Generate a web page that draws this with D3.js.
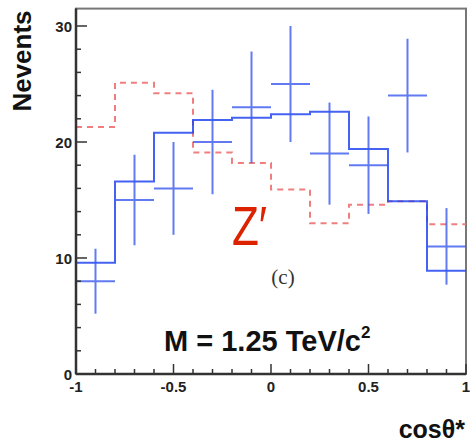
<!DOCTYPE html>
<html>
<head>
<meta charset="utf-8">
<script src="https://cdn.jsdelivr.net/npm/d3@7"></script>
<style>
body { margin: 0; background: #fff; }
svg text { font-family: "Liberation Sans", Arial, sans-serif; }
</style>
</head>
<body>
<script>
var width = 470;
var height = 445;

// bin edges (cos theta*), 10 bins
var binEdges = [-1, -0.8, -0.6, -0.4, -0.2, 0, 0.2, 0.4, 0.6, 0.8, 1];
// solid blue histogram
var blueHist = [9.6, 16.6, 20.8, 21.9, 22.1, 22.4, 22.6, 19.4, 14.9, 8.9];
// dashed red histogram
var redHist = [21.3, 25.1, 24.2, 19.1, 18.2, 15.9, 13.0, 14.6, 14.9, 12.9];
// data points with error bars
var dataVals = [8, 15, 16, 20, 23, 25, 19, 18, 24, 11];
var dataErrs = [2.8, 3.9, 4.0, 4.5, 4.8, 5.0, 4.4, 4.2, 4.9, 3.3];

var xMajor = [-1, -0.5, 0, 0.5, 1];
var xMajorLabels = ["-1", "-0.5", "0", "0.5", "1"];
var yMajor = [0, 10, 20, 30];

var x = d3.scaleLinear().domain([-1, 1]).range([76, 466]);
var y = d3.scaleLinear().domain([0, 30]).range([374, 26]);
var yTop = 31.5;

var svg = d3.select("body").append("svg")
    .attr("width", width)
    .attr("height", height);

// frame
svg.append("rect")
    .attr("x", x(-1)).attr("y", y(yTop))
    .attr("width", x(1) - x(-1)).attr("height", y(0) - y(yTop))
    .attr("fill", "none")
    .attr("stroke", "#777")
    .attr("stroke-width", 2);

// step path builder
function stepPath(vals) {
    var pts = [];
    vals.forEach(function(v, i) {
        pts.push([x(binEdges[i]), y(v)]);
        pts.push([x(binEdges[i + 1]), y(v)]);
    });
    return d3.line()(pts);
}

svg.append("path")
    .attr("d", stepPath(redHist))
    .attr("fill", "none")
    .attr("stroke", "#f07070")
    .attr("stroke-width", 2)
    .attr("stroke-dasharray", "6,5")
    .attr("opacity", 0.9);

svg.append("path")
    .attr("d", stepPath(blueHist))
    .attr("fill", "none")
    .attr("stroke", "#2448f0")
    .attr("stroke-width", 2)
    .attr("opacity", 0.85);

// data points
var pts = svg.append("g").attr("class", "points")
    .attr("stroke", "#3a5af0")
    .attr("stroke-width", 2)
    .attr("opacity", 0.8);

dataVals.forEach(function(v, i) {
    var lo = binEdges[i], hi = binEdges[i + 1], c = (lo + hi) / 2;
    pts.append("line")
        .attr("x1", x(lo)).attr("x2", x(hi))
        .attr("y1", y(v)).attr("y2", y(v));
    pts.append("line")
        .attr("x1", x(c)).attr("x2", x(c))
        .attr("y1", y(v - dataErrs[i])).attr("y2", y(v + dataErrs[i]));
});

// axes with inside ticks
var xAxisG = svg.append("g").attr("stroke", "#333").attr("stroke-width", 1.5);
d3.range(-1, 1.0001, 0.1).forEach(function(t) {
    var major = Math.abs(t * 2 - Math.round(t * 2)) < 1e-6;
    xAxisG.append("line")
        .attr("x1", x(t)).attr("x2", x(t))
        .attr("y1", y(0)).attr("y2", y(0) - (major ? 10 : 5));
});
var yAxisG = svg.append("g").attr("stroke", "#333").attr("stroke-width", 1.5);
d3.range(0, 31, 2).forEach(function(t) {
    var major = t % 10 === 0;
    yAxisG.append("line")
        .attr("x1", x(-1)).attr("x2", x(-1) + (major ? 11 : 5))
        .attr("y1", y(t)).attr("y2", y(t));
});
svg.append("line")
    .attr("x1", x(-1)).attr("x2", x(1))
    .attr("y1", y(0)).attr("y2", y(0))
    .attr("stroke", "#333").attr("stroke-width", 2.5);
svg.append("line")
    .attr("x1", x(-1)).attr("x2", x(-1))
    .attr("y1", y(0)).attr("y2", y(yTop))
    .attr("stroke", "#333").attr("stroke-width", 2.5);

// tick labels
svg.selectAll(".xl").data(xMajor).enter().append("text")
    .attr("x", d => x(d))
    .attr("y", 392)
    .attr("text-anchor", "middle")
    .attr("font-size", 15)
    .attr("font-weight", "bold")
    .attr("fill", "#222")
    .text((d, i) => xMajorLabels[i]);

svg.selectAll(".yl").data(yMajor).enter().append("text")
    .attr("x", 72)
    .attr("y", d => y(d) + 6)
    .attr("text-anchor", "end")
    .attr("font-size", 15)
    .attr("font-weight", "bold")
    .attr("fill", "#222")
    .text(d => d);

// axis titles
svg.append("text")
    .attr("transform", "translate(31,61) rotate(-90)")
    .attr("text-anchor", "middle")
    .attr("font-size", 26)
    .attr("font-weight", "bold")
    .attr("fill", "#111")
    .text("Nevents");

svg.append("text")
    .attr("x", 465).attr("y", 438)
    .attr("text-anchor", "end")
    .attr("font-size", 25)
    .attr("font-weight", "bold")
    .attr("fill", "#111")
    .text("cosθ*");

// annotations
var mText = svg.append("text")
    .attr("x", 164).attr("y", 351)
    .attr("font-size", 29)
    .attr("font-weight", "bold")
    .attr("fill", "#111")
    .text("M = 1.25 TeV/c");
mText.append("tspan")
    .attr("dy", -13)
    .attr("font-size", 17)
    .text("2");

svg.append("text")
    .attr("x", 283).attr("y", 284)
    .attr("text-anchor", "middle")
    .style("font-family", "'Liberation Serif', serif")
    .attr("font-size", 21)
    .attr("fill", "#333")
    .text("(c)");

svg.append("text")
    .attr("transform", "translate(232,245) scale(0.8,1)")
    .attr("font-size", 55)
    .attr("fill", "#dd2200")
    .text("Z′");
</script>
</body>
</html>
